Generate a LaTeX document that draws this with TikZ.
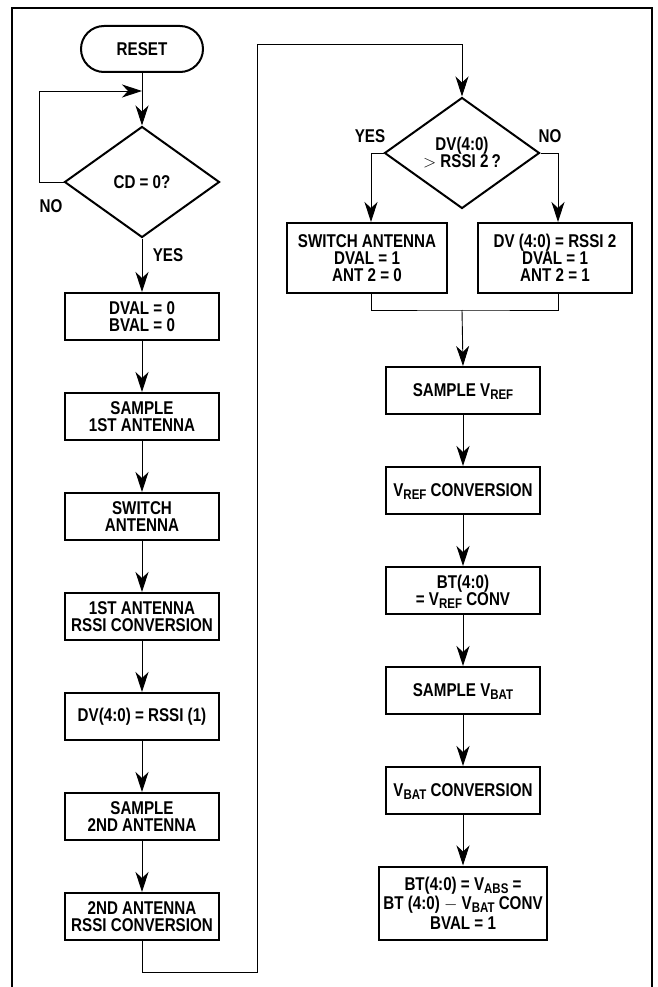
\documentclass[tikz,border=0pt]{standalone}
\usepackage{fontspec}
\newfontfamily\chartfont[FakeStretch=0.82]{Liberation Sans}
\usetikzlibrary{shapes.geometric,arrows.meta,positioning,calc}
\newcommand\lowsub[1]{\smash{\raisebox{-3pt}{\fontsize{14}{14}\selectfont #1}}}

\begin{document}
\begin{tikzpicture}[x=1pt, y=-1pt, node distance=100pt,
    font=\chartfont\bfseries\fontsize{18.5}{17}\selectfont,
    stepbox/.style={draw, line width=2pt, rectangle, align=center, minimum width=154pt, minimum height=47pt, inner sep=2pt},
    testbox/.style={draw, line width=2pt, diamond, align=center, minimum width=155pt, minimum height=111pt, inner sep=0pt},
    arr/.style={-{Stealth[length=20pt, width=13pt, inset=6pt]}, line width=0.9pt},
    wire/.style={line width=0.9pt}]
    \useasboundingbox (0,0) rectangle (658,987);
    \draw [line width=2.5pt] (12,995) -- (12,8) -- (652,8) -- (652,995);

    % left column
    \node (reset) [draw, line width=2pt, rounded corners=23pt, minimum width=122pt, minimum height=46pt] at (142,49) {RESET};
    \node (cd) [testbox] at (142,182) {CD = 0?};
    \node (dval) [stepbox] at (142,316.5) {DVAL = 0\\BVAL = 0};
    \node (samp1) [stepbox, below of=dval] {SAMPLE\\1ST ANTENNA};
    \node (swant) [stepbox, below of=samp1] {SWITCH\\ANTENNA};
    \node (rssi1) [stepbox, below of=swant] {1ST ANTENNA\\RSSI CONVERSION};
    \node (dvone) [stepbox, below of=rssi1] {DV(4:0) = RSSI (1)};
    \node (samp2) [stepbox, below of=dvone] {SAMPLE\\2ND ANTENNA};
    \node (rssi2) [stepbox, below of=samp2] {2ND ANTENNA\\RSSI CONVERSION};

    \node (nocd) at (51,206) {NO};
    \node (yescd) at (168,255) {YES};

    % right column
    \node (dv2) [testbox] at (462,153) {DV(4:0)\\$>$ RSSI 2\,?};
    \node (swtwo) [stepbox, minimum width=160pt, minimum height=70pt] at (367,258) {SWITCH ANTENNA\\DVAL = 1\\ANT 2 = 0};
    \node (dvset) [stepbox, minimum height=70pt] at (555,258) {DV (4:0) = RSSI 2\\DVAL = 1\\ANT 2 = 1};
    \node (sref) [stepbox] at (463,390.5) {SAMPLE V\lowsub{REF}};
    \node (cref) [stepbox, below of=sref] {V\lowsub{REF} CONVERSION};
    \node (btref) [stepbox, below of=cref] {BT(4:0)\\= V\lowsub{REF} CONV};
    \node (sbat) [stepbox, below of=btref] {SAMPLE V\lowsub{BAT}};
    \node (cbat) [stepbox, below of=sbat] {V\lowsub{BAT} CONVERSION};
    \node (btabs) [stepbox, below of=cbat, node distance=112.5pt, minimum width=168pt, minimum height=73pt, inner xsep=1pt,
        font=\chartfont\bfseries\fontsize{18.5}{19.5}\selectfont] {BT(4:0) = V\lowsub{ABS} =\\BT (4:0) $-$ V\lowsub{BAT} CONV\\BVAL = 1};

    \node (yesdv) at (370,136) {YES};
    \node (nodv) at (550,136) {NO};

    \coordinate (loopin) at (142,91);
    \coordinate (lowturn) at (257,972);
    \coordinate (highturn) at (257,44);
    \coordinate (merge) at (462,310);

    % connectors
    \draw [arr] (reset) -- (cd);
    \draw [arr] (cd.west) -- ++(-24,0) |- (loopin);
    \draw [arr] (cd) -- (dval);
    \draw [arr] (dval) -- (samp1);
    \draw [arr] (samp1) -- (swant);
    \draw [arr] (swant) -- (rssi1);
    \draw [arr] (rssi1) -- (dvone);
    \draw [arr] (dvone) -- (samp2);
    \draw [arr] (samp2) -- (rssi2);
    \draw [arr] (rssi2.south) |- (lowturn) -- (highturn) -| (dv2.north);
    \draw [arr] (dv2.west) -| ([xshift=4pt]swtwo.north);
    \draw [arr] (dv2.east) -| ([xshift=3pt]dvset.north);
    \draw [wire] ([xshift=4pt]swtwo.south) |- (merge) -| ([xshift=3pt]dvset.south);
    \draw [arr] (merge) -- (sref.north);
    \draw [arr] (sref) -- (cref);
    \draw [arr] (cref) -- (btref);
    \draw [arr] (btref) -- (sbat);
    \draw [arr] (sbat) -- (cbat);
    \draw [arr] (cbat) -- (btabs);
\end{tikzpicture}
\end{document}
